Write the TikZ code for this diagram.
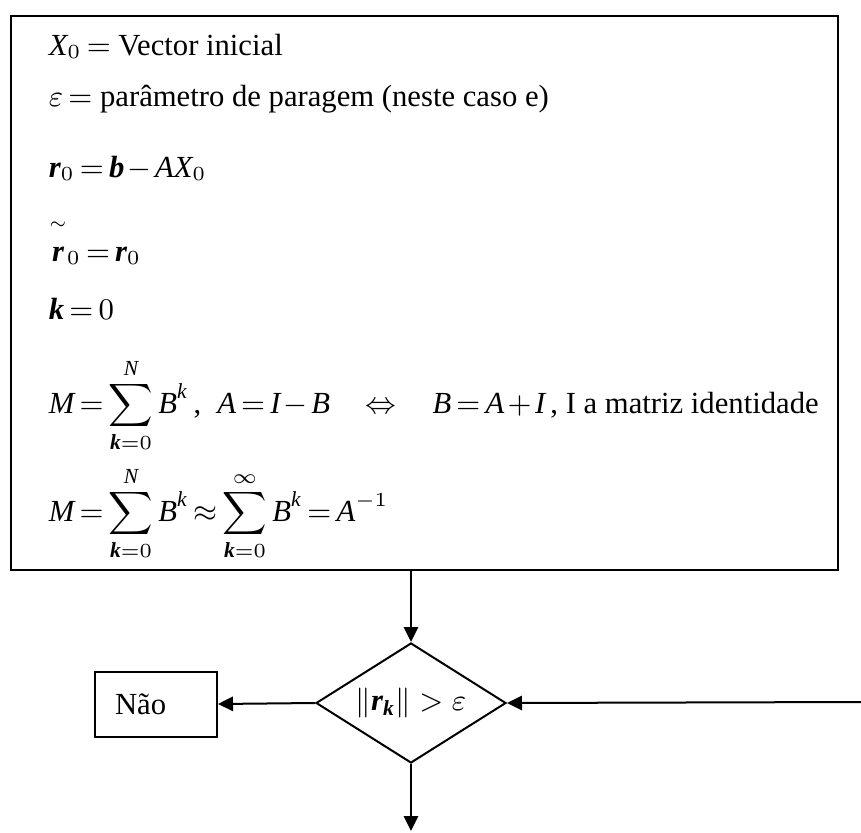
\documentclass[tikz,border=0pt]{standalone}
\usepackage{amsmath}
\usepackage{bm}
\usepackage{fontspec}
\setmainfont{Liberation Serif}
\usetikzlibrary{arrows.meta, shapes.geometric, positioning}

% Times-like letters and digits in math
\DeclareSymbolFont{tmsit}{TU}{\rmdefault}{m}{it}
\SetSymbolFont{tmsit}{bold}{TU}{\rmdefault}{b}{it}
\DeclareSymbolFont{tmsup}{TU}{\rmdefault}{m}{n}
\SetSymbolFont{tmsup}{bold}{TU}{\rmdefault}{b}{n}
\DeclareMathSymbol{A}{\mathalpha}{tmsit}{`A}
\DeclareMathSymbol{B}{\mathalpha}{tmsit}{`B}
\DeclareMathSymbol{I}{\mathalpha}{tmsit}{`I}
\DeclareMathSymbol{M}{\mathalpha}{tmsit}{`M}
\DeclareMathSymbol{N}{\mathalpha}{tmsit}{`N}
\DeclareMathSymbol{X}{\mathalpha}{tmsit}{`X}
\DeclareMathSymbol{b}{\mathalpha}{tmsit}{`b}
\DeclareMathSymbol{k}{\mathalpha}{tmsit}{`k}
\DeclareMathSymbol{r}{\mathalpha}{tmsit}{`r}
\DeclareMathSymbol{0}{\mathalpha}{tmsup}{`0}
\DeclareMathSymbol{1}{\mathalpha}{tmsup}{`1}
\DeclareMathSymbol{=}{\mathrel}{tmsup}{`=}
\DeclareMathSymbol{+}{\mathbin}{tmsup}{`+}

\begin{document}
\begin{tikzpicture}[x=0.3pt, y=-0.3pt, >={Triangle[length=4.5pt,width=4.3pt]}, line width=0.6pt,
  every node/.style={font=\fontsize{9.2}{11}\selectfont},
  eqline/.style={anchor=base west, inner sep=0pt,
    execute at begin node={\thickmuskip=3mu plus 1mu\medmuskip=2mu plus 1mu}},
  stepbox/.style={draw, rectangle, text width=24.6pt, inner xsep=6pt, inner ysep=0pt,
    minimum height=19.5pt, align=left},
  decision/.style={draw, diamond, aspect=1.58, inner sep=0pt, minimum width=57pt, minimum height=36pt}]
  \useasboundingbox (0,0) rectangle (861,833);

  % Initialisation block
  \node (init) [draw, rectangle, anchor=north west, inner sep=0pt,
    minimum width=248.1pt, minimum height=166.2pt] at (10,15) {};
  \node (l1) [eqline] at (48,55) {$X_{0}=$ Vector inicial};
  \node (l2) [eqline] at (48,106) {$\varepsilon=$ parâmetro de paragem (neste caso e)};
  \node (l3) [eqline] at (48,177) {$\bm{r}_{0}=\bm{b}-AX_{0}$};
  \node (l4) [eqline] at (48,261) {$\overset{\scriptscriptstyle\sim}{\rule{0pt}{8pt}\smash{\bm{r}}}_{0}=\bm{r}_{0}$};
  \node (l5) [eqline] at (48,319) {$\bm{k}=0$};
  \node (l6) [eqline] at (48,413) {$\displaystyle M=\sum_{\bm{k}=0}^{N}B^{k}$\,,\; $A=I-B\quad\Leftrightarrow\quad B=A+I$\,, I a matriz identidade};
  \node (l7) [eqline] at (48,521) {$\displaystyle M=\sum_{\bm{k}=0}^{N}B^{k}\approx\sum_{\bm{k}=0}^{\infty}B^{k}=A^{-1}$};

  % Stopping test
  \node (test) [decision] at (411,703) {$\|\bm{r}_{\bm{k}}\|>\varepsilon$};
  \node (nao) [stepbox] at (156,704) {Não};

  % free ends
  \coordinate (entry) at (861,702);
  \coordinate (exit) at (411,831);

  % Connectors
  \draw[->] (init.south -| test.north) -- (test.north);
  \draw[->] (test.west) -- (nao.east);
  \draw[->] (entry) -- (test.east);
  \draw[->] (test.south) -- (exit);
\end{tikzpicture}
\end{document}
